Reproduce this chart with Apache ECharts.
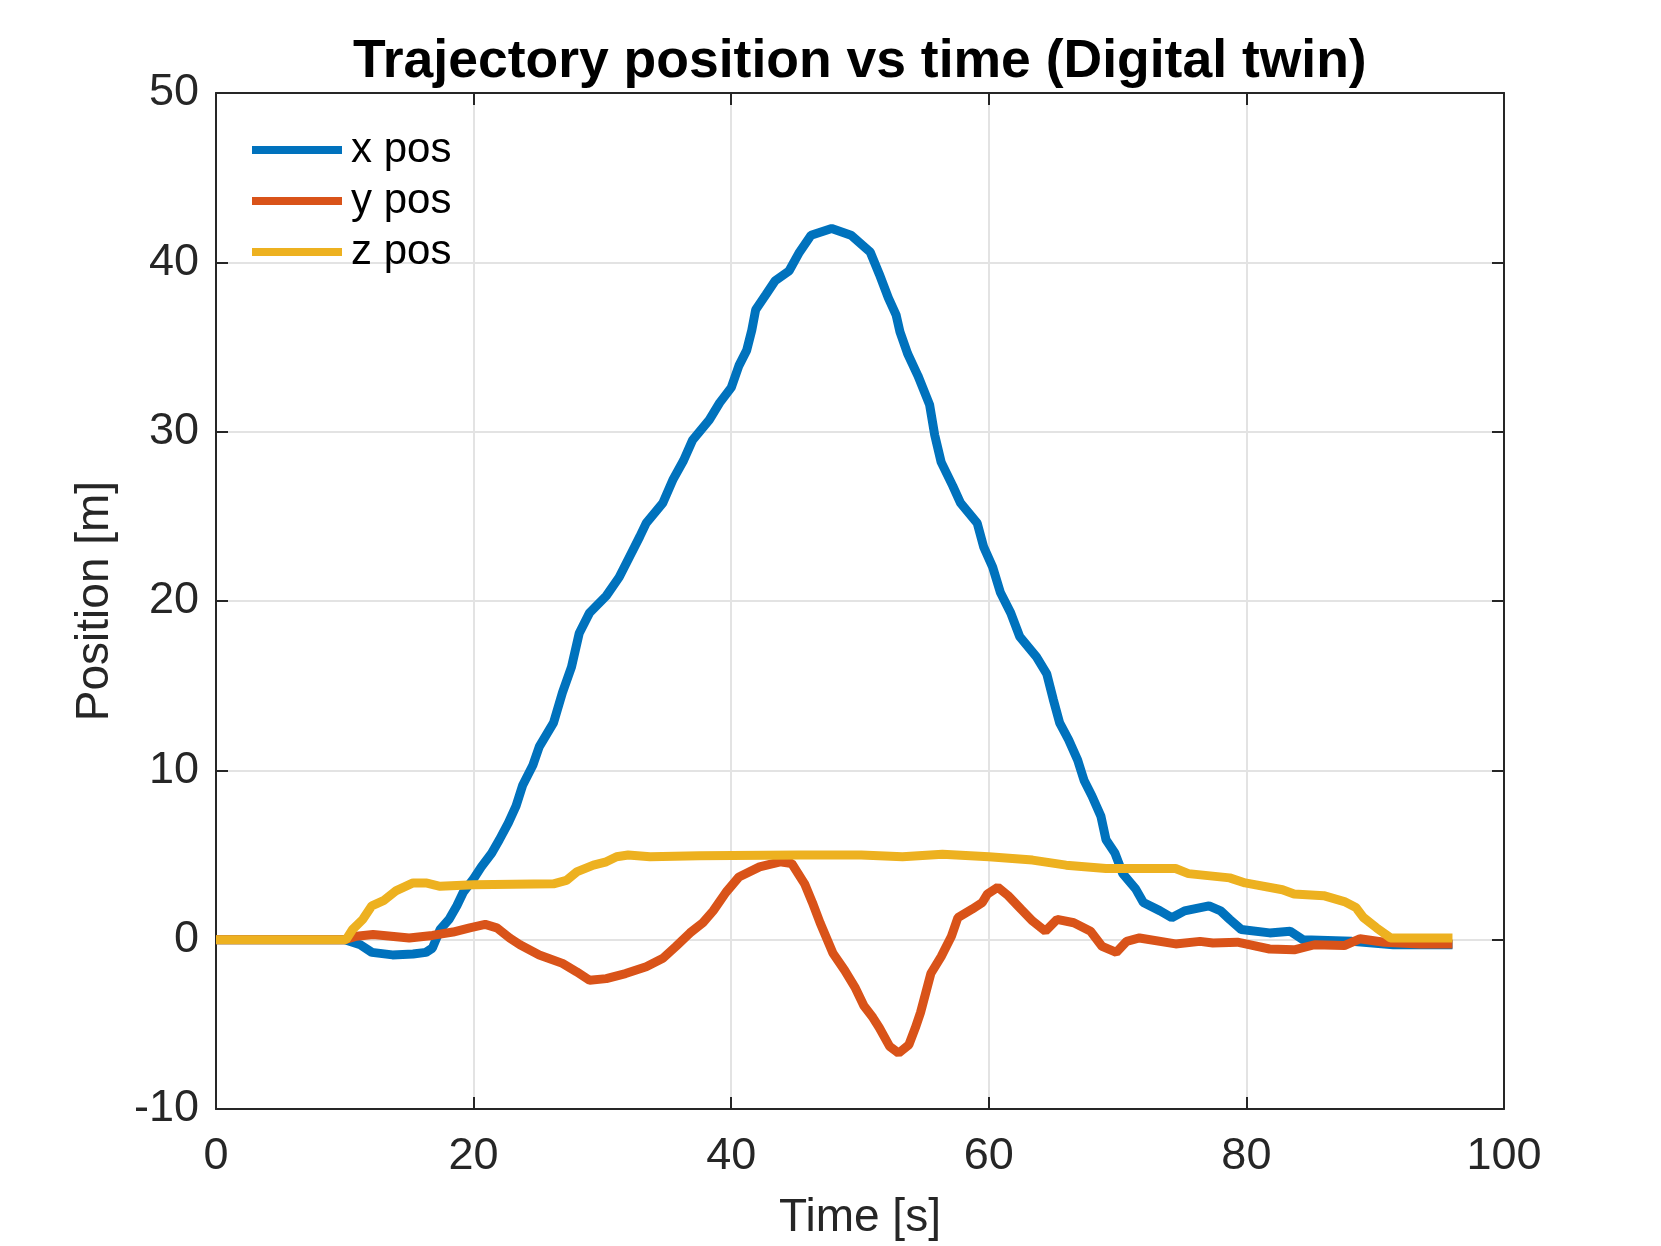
<!DOCTYPE html>
<html>
<head>
<meta charset="utf-8">
<script src="https://cdn.jsdelivr.net/npm/echarts@6/dist/echarts.min.js"></script>
<style>
html,body{margin:0;padding:0;background:#fff;}
#chart{width:1661px;height:1246px;}
</style>
</head>
<body>
<div id="chart"></div>
<script>
// ---- data ----
const xTime = [0, 10, 11.2, 12.1, 13.7, 15.3, 16.3, 16.8, 17.4, 18.1, 18.7, 19.2, 20.0, 20.6, 21.4, 22.0, 22.7, 23.3, 23.8, 24.6, 25.1, 26.2, 26.9, 27.6, 28.2, 29.0, 30.3, 31.3, 32.1, 32.9, 33.4, 34.7, 35.5, 36.3, 37.0, 38.3, 39.1, 40.0, 40.6, 41.2, 41.6, 41.9, 42.7, 43.4, 44.5, 45.3, 46.2, 47.8, 49.3, 50.8, 51.5, 52.2, 52.8, 53.1, 53.7, 54.5, 55.4, 55.8, 56.3, 57.2, 57.8, 59.1, 59.6, 60.3, 60.9, 61.7, 62.4, 63.7, 64.5, 65.0, 65.5, 66.2, 66.9, 67.4, 68.0, 68.7, 69.1, 69.8, 70.4, 71.4, 72.0, 73.3, 74.2, 75.2, 77.1, 78.0, 78.7, 79.6, 81.8, 83.4, 84.4, 88.2, 91.4, 96];
const xPos  = [0, 0, -0.3, -0.75, -0.9, -0.85, -0.75, -0.5, 0.6, 1.2, 2.0, 2.8, 3.6, 4.3, 5.1, 5.9, 6.9, 7.9, 9.1, 10.3, 11.4, 12.8, 14.6, 16.1, 18.1, 19.3, 20.3, 21.4, 22.6, 23.8, 24.6, 25.8, 27.2, 28.3, 29.5, 30.7, 31.7, 32.6, 33.9, 34.8, 36.0, 37.2, 38.1, 38.9, 39.5, 40.6, 41.6, 42.0, 41.6, 40.6, 39.3, 37.9, 36.9, 35.9, 34.6, 33.3, 31.6, 29.8, 28.2, 26.8, 25.8, 24.6, 23.2, 22.0, 20.5, 19.3, 17.9, 16.7, 15.7, 14.2, 12.8, 11.8, 10.6, 9.4, 8.5, 7.3, 5.9, 5.1, 3.9, 3.0, 2.2, 1.7, 1.3, 1.7, 2.0, 1.7, 1.2, 0.6, 0.4, 0.5, 0, -0.1, -0.3, -0.3];

const yTime = [0, 10, 10.9, 12.2, 15.0, 16.8, 18.4, 19.7, 20.9, 21.8, 22.8, 23.6, 25.1, 26.9, 28.0, 29.0, 30.3, 31.8, 33.4, 34.7, 35.7, 36.8, 37.8, 38.6, 39.6, 40.6, 42.2, 43.8, 44.7, 45.7, 46.3, 46.9, 47.9, 48.8, 49.6, 50.3, 51.0, 51.5, 52.3, 53.0, 53.8, 54.3, 54.7, 55.5, 56.3, 57.1, 57.6, 58.7, 59.5, 59.9, 60.7, 61.5, 62.5, 63.4, 64.4, 65.3, 66.6, 67.9, 68.8, 69.9, 70.7, 71.7, 74.5, 76.4, 77.4, 79.3, 81.8, 83.7, 85.3, 87.6, 88.8, 90.7, 93.5, 96];
const yPos  = [0, 0, 0.2, 0.3, 0.1, 0.25, 0.45, 0.7, 0.9, 0.7, 0.1, -0.3, -0.9, -1.4, -1.9, -2.4, -2.3, -2.0, -1.6, -1.1, -0.4, 0.4, 1.0, 1.7, 2.8, 3.7, 4.3, 4.6, 4.5, 3.3, 2.2, 1.0, -0.8, -1.8, -2.8, -3.9, -4.6, -5.2, -6.3, -6.7, -6.2, -5.2, -4.3, -2.0, -1.0, 0.2, 1.3, 1.8, 2.2, 2.7, 3.1, 2.6, 1.8, 1.1, 0.5, 1.2, 1.0, 0.5, -0.4, -0.75, -0.1, 0.1, -0.25, -0.1, -0.2, -0.15, -0.55, -0.6, -0.3, -0.35, 0.05, -0.15, -0.25, -0.25];

const zTime = [0, 10.1, 10.6, 11.4, 12.1, 13.0, 14.0, 15.3, 16.3, 17.4, 20.0, 26.2, 27.2, 28.0, 29.3, 30.3, 31.1, 32.0, 33.7, 37.5, 45.3, 50.1, 53.3, 56.4, 60, 63.4, 66, 69.1, 74.5, 75.5, 78.7, 79.9, 82.8, 83.7, 86, 87.6, 88.5, 89.1, 90.1, 91.2, 96];
const zPos  = [0, 0, 0.6, 1.2, 2.0, 2.3, 2.9, 3.35, 3.35, 3.15, 3.25, 3.3, 3.5, 4.0, 4.4, 4.6, 4.9, 5.0, 4.9, 4.95, 5.0, 5.0, 4.9, 5.05, 4.9, 4.7, 4.4, 4.2, 4.2, 3.9, 3.65, 3.35, 2.95, 2.7, 2.6, 2.25, 1.9, 1.3, 0.7, 0.1, 0.1];

const seriesNames = ['x pos', 'y pos', 'z pos'];
const seriesColors = ['#0072BD', '#D95319', '#EDB120'];
const xTicks = [0, 20, 40, 60, 80, 100];
const yTicks = [-10, 0, 10, 20, 30, 40, 50];
const titleText = 'Trajectory position vs time (Digital twin)';
const xLabel = 'Time [s]';
const yLabel = 'Position [m]';

function pairs(t, v) { return t.map((x, i) => [x, v[i]]); }

const FONT = '"Liberation Sans", Arial, Helvetica, sans-serif';
const AX = '#262626';

const chart = echarts.init(document.getElementById('chart'), null, {renderer: 'canvas'});
const baseAxis = {
  axisLine: {show: true, onZero: false, lineStyle: {color: AX, width: 2}},
  axisTick: {show: true, inside: true, length: 12, lineStyle: {color: AX, width: 2}},
};
chart.setOption({
  animation: false,
  backgroundColor: '#ffffff',
  title: {
    text: titleText, left: 348, top: 30,
    textStyle: {fontFamily: FONT, fontSize: 53.5, fontWeight: 'bold', color: '#000'}
  },
  legend: {
    orient: 'vertical', left: 247, top: 124,
    icon: 'rect', itemWidth: 90, itemHeight: 8, itemGap: 9,
    data: seriesNames,
    textStyle: {fontFamily: FONT, fontSize: 42, color: '#000', lineHeight: 42, padding: [0, 0, 0, 4]}
  },
  grid: {left: 216, top: 93, width: 1288, height: 1018, containLabel: false},
  xAxis: [
    Object.assign({}, baseAxis, {
      type: 'value', min: xTicks[0], max: xTicks[xTicks.length - 1], interval: 20,
      name: xLabel, nameLocation: 'middle', nameGap: 86,
      nameTextStyle: {fontFamily: FONT, fontSize: 46, color: AX},
      axisLabel: {fontFamily: FONT, fontSize: 45, color: AX, margin: 25},
      splitLine: {show: true, lineStyle: {color: '#e3e3e3', width: 2}}
    }),
    Object.assign({}, baseAxis, {
      type: 'value', position: 'top', min: xTicks[0], max: xTicks[xTicks.length - 1], interval: 20,
      axisLabel: {show: false}, splitLine: {show: false}
    })
  ],
  yAxis: [
    Object.assign({}, baseAxis, {
      type: 'value', min: yTicks[0], max: yTicks[yTicks.length - 1], interval: 10,
      name: yLabel, nameLocation: 'middle', nameGap: 98, nameRotate: 90,
      nameTextStyle: {fontFamily: FONT, fontSize: 46, color: AX},
      axisLabel: {fontFamily: FONT, fontSize: 45, color: AX, margin: 17, padding: [6, 0, 0, 0]},
      splitLine: {show: true, lineStyle: {color: '#e3e3e3', width: 2}}
    }),
    Object.assign({}, baseAxis, {
      type: 'value', position: 'right', min: yTicks[0], max: yTicks[yTicks.length - 1], interval: 10,
      axisLabel: {show: false}, splitLine: {show: false}
    })
  ],
  series: [
    {name: seriesNames[0], type: 'line', data: pairs(xTime, xPos), showSymbol: false, symbol: 'none',
     lineStyle: {width: 9, color: seriesColors[0]}, itemStyle: {color: seriesColors[0]}},
    {name: seriesNames[1], type: 'line', data: pairs(yTime, yPos), showSymbol: false, symbol: 'none',
     lineStyle: {width: 9, color: seriesColors[1]}, itemStyle: {color: seriesColors[1]}},
    {name: seriesNames[2], type: 'line', data: pairs(zTime, zPos), showSymbol: false, symbol: 'none',
     lineStyle: {width: 9, color: seriesColors[2]}, itemStyle: {color: seriesColors[2]}}
  ]
});
</script>
</body>
</html>
